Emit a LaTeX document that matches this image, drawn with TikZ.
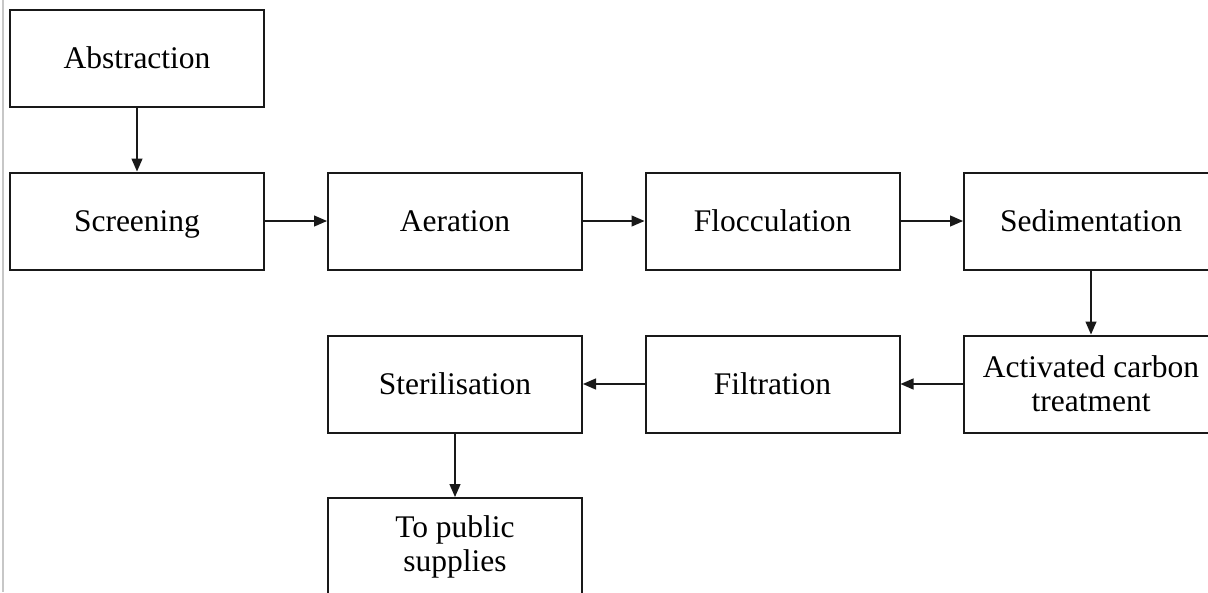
\documentclass[tikz,border=0pt]{standalone}
\usepackage{fontspec}
\setmainfont{Liberation Serif}
\usetikzlibrary{arrows.meta}
\tikzset{
  stage/.style={draw=black!90, line width=2pt, minimum width=254pt, minimum height=97pt,
    inner sep=0pt, align=center, text height=22pt, text depth=2pt,
    font=\fontsize{31.5}{34}\selectfont},
  flow/.style={draw=black!90, line width=1.3pt, -{Triangle[length=13pt,width=11pt]}}
}
\begin{document}
\begin{tikzpicture}[x=1pt,y=-1pt]
\clip (0,0) rectangle (1208,592);
\fill[white] (0,0) rectangle (1208,592);
\draw[black!22, line width=2pt] (3,0) -- (3,592);
\node[stage] (abs) at (137,58.5) {Abstraction};
\node[stage] (scr) at (137,221) {Screening};
\node[stage] (aer) at (455,221) {Aeration};
\node[stage] (flo) at (772.5,221) {Flocculation};
\node[stage] (sed) at (1091,221) {Sedimentation};
\node[stage, text height=, text depth=] (act) at (1091,384) {Activated carbon\\treatment};
\node[stage] (fil) at (772.5,384) {Filtration};
\node[stage] (ste) at (455,384) {Sterilisation};
\node[stage, text height=, text depth=] (pub) at (455,546.5) {To public\\supplies};
\draw[flow] (abs) -- (scr);
\draw[flow] (scr) -- (aer);
\draw[flow] (aer) -- (flo);
\draw[flow] (flo) -- (sed);
\draw[flow] (sed) -- (act);
\draw[flow] (act) -- (fil);
\draw[flow] (fil) -- (ste);
\draw[flow] (ste) -- (pub);
\end{tikzpicture}
\end{document}
